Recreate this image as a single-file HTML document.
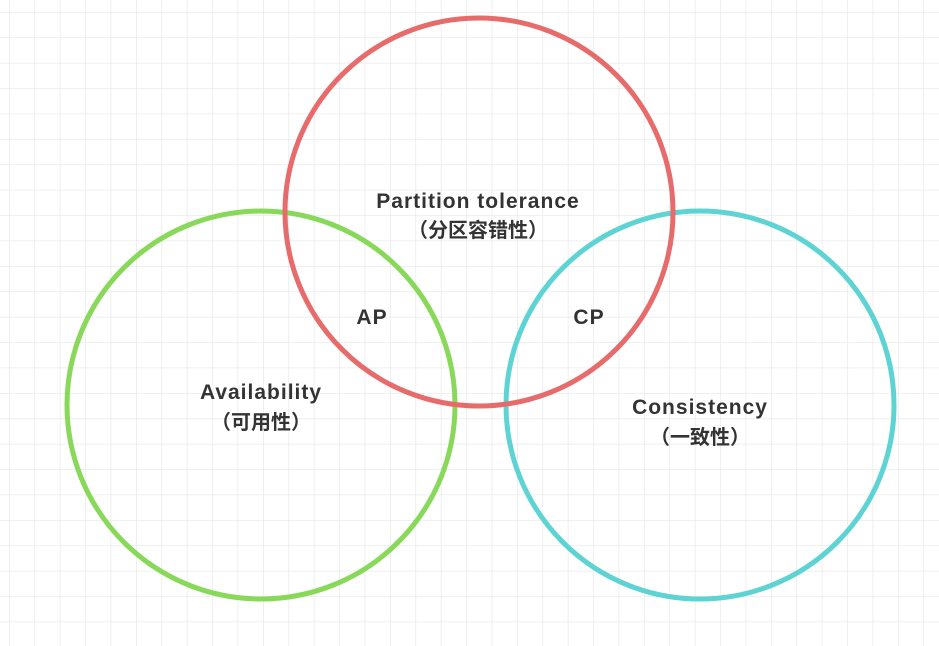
<!DOCTYPE html>
<html><head><meta charset="utf-8"><style>
html,body{margin:0;padding:0;background:#fff;}
svg{display:block}
text{font-family:"Liberation Sans","Noto Sans CJK SC",sans-serif;font-weight:bold;fill:#333;font-size:21px;letter-spacing:1px;text-anchor:middle}
text.c{font-size:20px;letter-spacing:0}
</style></head><body>
<svg width="939" height="646" viewBox="0 0 939 646" xmlns="http://www.w3.org/2000/svg">
<defs>
<pattern id="g" x="9" y="12" width="25.4" height="25.4" patternUnits="userSpaceOnUse">
<path d="M0 0V25.4M0 0H25.4" stroke="#e6e6e6" stroke-width="1.3" fill="none"/>
</pattern>
</defs>
<rect width="939" height="646" fill="#fff"/>
<rect width="939" height="646" fill="url(#g)"/>
<circle cx="261" cy="405" r="194" fill="none" stroke="#88d85a" stroke-width="5"/>
<circle cx="700" cy="405" r="194" fill="none" stroke="#5ed3d3" stroke-width="5"/>
<circle cx="479" cy="212" r="194" fill="none" stroke="#e86b6b" stroke-width="5"/>
<text x="478" y="208">Partition tolerance</text>
<text class="c" x="478" y="237">（分区容错性）</text>
<text x="372" y="324">AP</text>
<text x="589" y="324">CP</text>
<text x="261" y="399">Availability</text>
<text class="c" x="261" y="429">（可用性）</text>
<text x="700" y="414">Consistency</text>
<text class="c" x="700" y="444">（一致性）</text>
</svg>
</body></html>
